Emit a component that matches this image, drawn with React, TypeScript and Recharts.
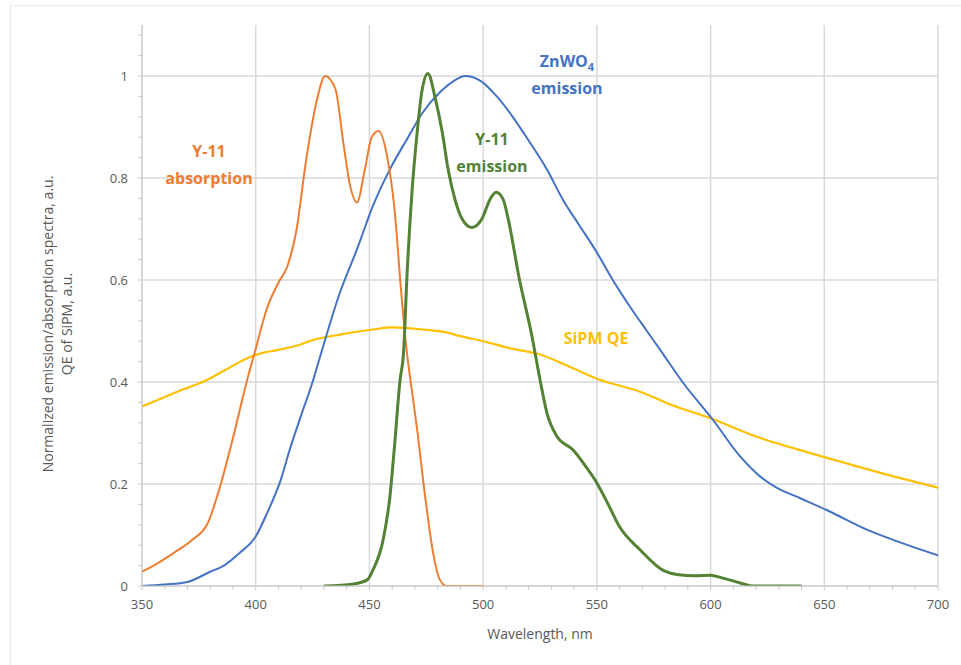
import React from "react";
import {
  LineChart,
  Line,
  XAxis,
  YAxis,
  CartesianGrid,
  Label,
} from "recharts";

// wavelength (nm) / value pairs
const absNm = [350, 357, 364, 372, 379, 384, 390, 396, 400, 405, 410, 414, 418, 422, 427, 430.5, 435, 438.5, 441.5, 444.5, 448, 451, 454, 458, 461, 464, 466.5, 468, 471, 474.5, 478, 481, 484, 500];
const absVal = [0.028, 0.045, 0.065, 0.09, 0.124, 0.19, 0.29, 0.4, 0.465, 0.545, 0.595, 0.628, 0.7, 0.83, 0.955, 1.0, 0.975, 0.87, 0.785, 0.752, 0.817, 0.88, 0.892, 0.837, 0.74, 0.575, 0.457, 0.405, 0.306, 0.175, 0.065, 0.012, 0, 0];

const znNm = [350, 360, 370, 380, 386, 393, 400, 405, 411, 415, 420, 425, 428, 437, 444.5, 451.5, 459, 466.5, 473.5, 481, 487, 492, 499, 506, 513, 520.5, 528, 535, 542.5, 550, 557, 564.5, 572, 578, 588, 601, 613, 622, 629, 639, 651, 669, 683, 700];
const znVal = [0, 0.003, 0.008, 0.028, 0.04, 0.065, 0.097, 0.143, 0.208, 0.268, 0.335, 0.4, 0.445, 0.575, 0.66, 0.745, 0.817, 0.876, 0.929, 0.968, 0.99, 1.0, 0.99, 0.96, 0.92, 0.87, 0.817, 0.758, 0.706, 0.654, 0.6, 0.548, 0.5, 0.462, 0.398, 0.326, 0.254, 0.214, 0.193, 0.173, 0.149, 0.11, 0.086, 0.06];

const qeNm = [350, 365, 379, 390, 397, 403, 410, 417, 425, 437, 451.5, 460, 473.5, 484, 490, 500, 512, 525, 538, 551, 569, 583.5, 600, 620, 642, 657, 683, 700];
const qeVal = [0.352, 0.38, 0.405, 0.432, 0.448, 0.457, 0.463, 0.47, 0.482, 0.493, 0.503, 0.507, 0.503, 0.497, 0.49, 0.48, 0.466, 0.454, 0.43, 0.405, 0.381, 0.354, 0.329, 0.293, 0.263, 0.244, 0.212, 0.193];

const emNm = [430, 443, 449, 451.5, 456, 459, 461, 463.5, 465, 466.5, 468.7, 471, 473, 475.7, 479, 482, 484.6, 487.6, 490.7, 495, 499.5, 503, 505.7, 508.8, 511, 516, 521, 525, 528, 532.5, 539.5, 545, 550, 555, 560, 569, 579, 586, 593, 600, 605, 613, 619, 640];
const emVal = [0, 0.004, 0.012, 0.031, 0.09, 0.175, 0.273, 0.405, 0.457, 0.607, 0.772, 0.89, 0.968, 1.005, 0.955, 0.89, 0.817, 0.758, 0.72, 0.703, 0.72, 0.758, 0.772, 0.758, 0.72, 0.6, 0.5, 0.405, 0.34, 0.293, 0.267, 0.235, 0.202, 0.16, 0.116, 0.071, 0.031, 0.022, 0.02, 0.021, 0.016, 0.006, 0, 0];

const xMajor = [350, 400, 450, 500, 550, 600, 650, 700];
const yMajor = [0, 0.2, 0.4, 0.6, 0.8, 1];

const xTicks = Array.from({ length: 36 }, (_, i) => 350 + i * 10);
const yTicks = Array.from({ length: 28 }, (_, i) => Math.round(i * 4) / 100);

const toSeries = (nm: number[], val: number[]) =>
  nm.map((x, i) => ({ nm: x, v: val[i] }));

const absorption = toSeries(absNm, absVal);
const znwo4 = toSeries(znNm, znVal);
const sipm = toSeries(qeNm, qeVal);
const emission = toSeries(emNm, emVal);

const FONT = "'Open Sans', sans-serif";
const AXIS = "#c9c9c9";
const TXT = "#595959";

// two-line rotated y title
const YTitle = () => {
  const cy = 324;
  return (
    <g fontFamily={FONT} fontSize={14} fill={TXT} textAnchor="middle">
      <text x={47} y={cy} dominantBaseline="central" transform={`rotate(-90, 47, ${cy})`}>
        Normalized emission/absorption spectra, a.u.
      </text>
      <text x={66} y={cy} dominantBaseline="central" transform={`rotate(-90, 66, ${cy})`}>
        QE of SiPM, a.u.
      </text>
    </g>
  );
};

const note = (color: string): React.CSSProperties => ({
  position: "absolute",
  color,
  fontFamily: FONT,
  fontWeight: 700,
  fontSize: 16,
  lineHeight: "27px",
  textAlign: "center",
  whiteSpace: "nowrap",
  transform: "translateX(-50%)",
});

export default function App() {
  return (
    <div style={{ position: "absolute", left: 0, top: 0, width: 961, height: 665, background: "#fff" }}>
      <div
        style={{
          position: "absolute",
          left: 10,
          top: 5,
          right: -2,
          bottom: -2,
          borderTop: "1px solid #ebebeb",
          borderLeft: "1px solid #ebebeb",
        }}
      />
      <LineChart
        width={961}
        height={665}
        margin={{ top: 25, right: 23, bottom: 0, left: 0 }}
        style={{ position: "absolute", left: 0, top: 0 }}
      >
        <CartesianGrid
          stroke="#d9d9d9"
          strokeWidth={1.5}
          horizontalValues={yMajor}
          verticalValues={xMajor}
        />
        <XAxis
          type="number"
          dataKey="nm"
          domain={[350, 700]}
          ticks={xTicks}
          interval={0}
          height={79}
          allowDataOverflow
          stroke={AXIS}
          tickSize={4}
          tickMargin={10}
          tick={{ fontFamily: FONT, fontSize: 13, fill: TXT }}
          tickFormatter={(v: number) => (v % 50 === 0 ? String(v) : "")}
        >
          <Label
            value="Wavelength, nm"
            position="insideBottom"
            offset={26}
            style={{ fontFamily: FONT, fontSize: 14, fill: TXT }}
          />
        </XAxis>
        <YAxis
          type="number"
          dataKey="v"
          domain={[0, 1.1]}
          ticks={yTicks}
          interval={0}
          width={142}
          allowDataOverflow
          stroke={AXIS}
          tickSize={4}
          tickMargin={10}
          tick={{ fontFamily: FONT, fontSize: 13, fill: TXT }}
          tickFormatter={(v: number) =>
            Math.round(v * 100) % 20 === 0 ? String(Math.round(v * 10) / 10) : ""
          }
        >
          <Label content={YTitle} position="center" />
        </YAxis>
        <Line data={sipm} dataKey="v" type="monotone" stroke="#FFC000" strokeWidth={2.2} dot={false} isAnimationActive={false} />
        <Line data={znwo4} dataKey="v" type="monotone" stroke="#4472C4" strokeWidth={2} dot={false} isAnimationActive={false} />
        <Line data={absorption} dataKey="v" type="monotone" stroke="#ED7D31" strokeWidth={2} dot={false} isAnimationActive={false} />
        <Line data={emission} dataKey="v" type="monotone" stroke="#548235" strokeWidth={3} dot={false} isAnimationActive={false} />
      </LineChart>
      <div style={{ ...note("#ED7D31"), left: 209, top: 138 }}>
        Y-11
        <br />
        absorption
      </div>
      <div style={{ ...note("#4472C4"), left: 567, top: 48 }}>
        ZnWO<sub style={{ fontSize: 11, lineHeight: 0 }}>4</sub>
        <br />
        emission
      </div>
      <div style={{ ...note("#548235"), left: 492, top: 126 }}>
        Y-11
        <br />
        emission
      </div>
      <div style={{ ...note("#FFC000"), left: 596, top: 325 }}>SiPM QE</div>
    </div>
  );
}
